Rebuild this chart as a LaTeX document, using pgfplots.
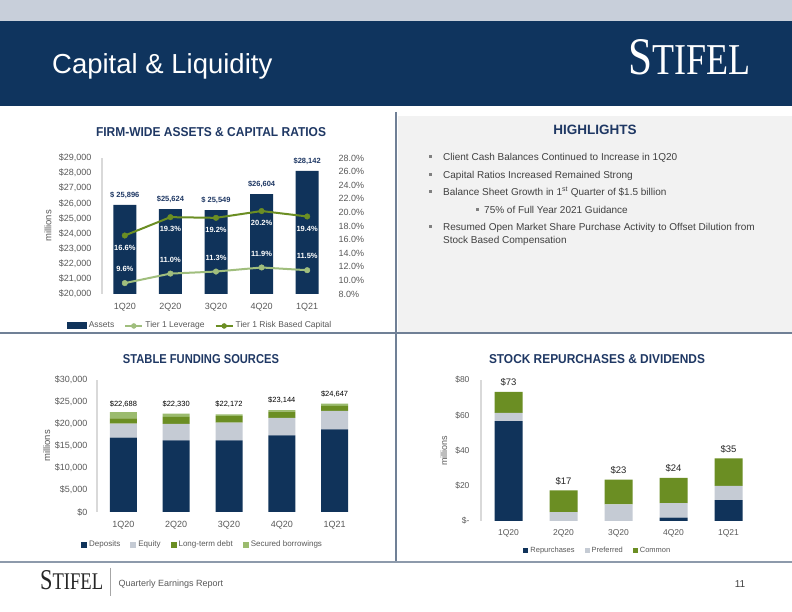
\documentclass[border=0pt]{standalone}
\usepackage{pgfplots}
\pgfplotsset{compat=1.18}
\usepackage{fontspec}
\usepackage{graphicx}
\setmainfont{Liberation Sans}
\newfontfamily\logofont{Liberation Serif}

\definecolor{navy}{RGB}{16,51,90}
\definecolor{hdrnavy}{RGB}{15,52,94}
\definecolor{hdrtop}{RGB}{200,207,218}
\definecolor{lgreen}{RGB}{160,190,125}
\definecolor{dgreen}{RGB}{107,142,35}
\definecolor{sgreen}{RGB}{155,187,110}
\definecolor{eqgray}{RGB}{197,203,212}
\definecolor{txtgray}{RGB}{89,89,89}
\definecolor{bodygray}{RGB}{64,64,64}
\definecolor{linegray}{RGB}{112,128,150}
\definecolor{panelgray}{RGB}{242,242,242}
\definecolor{titlenavy}{RGB}{31,56,100}
\definecolor{axisgray}{RGB}{217,217,217}

\newcommand{\fs}[1]{\fontsize{#1}{#1}\selectfont}

\pgfplotsset{
  slide/.style={
    scale only axis, anchor=south west,
    enlargelimits=false,
    xmin=-0.5, xmax=4.5,
    xtick={0,1,2,3,4},
    xticklabels={1Q20,2Q20,3Q20,4Q20,1Q21},
    axis lines*=left,
    x axis line style={draw=none},
    y axis line style={draw=axisgray, line width=1.2pt},
    tick style={draw=none},
    ticklabel style={font=\fs{9}, text=txtgray},
    /pgf/number format/assume math mode=true,
    /pgf/number format/fixed,
    /pgf/number format/1000 sep={,},
    scaled y ticks=false,
    clip mode=individual,
    legend style={draw=none, fill=none, text=txtgray, legend columns=-1,
      nodes={text height=5.5pt, text depth=1.5pt},
      /tikz/every even column/.append style={column sep=8pt}},
    legend cell align=left,
  }
}

\begin{document}
\begin{tikzpicture}
\useasboundingbox (0,0) rectangle (792pt,612pt);
\fill[white] (0,0) rectangle (792pt,612pt);
% header
\fill[hdrtop] (0,591pt) rectangle (792pt,612pt);
\fill[hdrnavy] (0,506pt) rectangle (792pt,591pt);
\node[anchor=base west, text=white, font=\fs{27.5}, inner sep=0pt] at (52pt,538pt) {Capital \& Liquidity};
\node[anchor=south west, text=white, inner sep=0pt] at (628pt,537pt) {\resizebox{122pt}{35pt}{\logofont\fs{36}S\fs{30}TIFEL}};

% highlights panel
\fill[panelgray] (398pt,280pt) rectangle (792pt,496pt);
\node[font=\bfseries\fs{13.5}, text=titlenavy] at (595pt,482pt) {HIGHLIGHTS};
\begin{scope}[every node/.style={anchor=base west, font=\fs{10}, text=bodygray, inner sep=0pt}]
\fill[gray] (428.5pt,453.5pt) rectangle (431.5pt,456.5pt);
\node at (443pt,451.7pt) {Client Cash Balances Continued to Increase in 1Q20};
\fill[gray] (428.5pt,435.5pt) rectangle (431.5pt,438.5pt);
\node at (443pt,433.7pt) {Capital Ratios Increased Remained Strong};
\fill[gray] (428.5pt,418.5pt) rectangle (431.5pt,421.5pt);
\node at (443pt,416.7pt) {Balance Sheet Growth in 1\textsuperscript{st} Quarter of \$1.5 billion};
\fill[gray] (475.5pt,400.5pt) rectangle (478.5pt,403.5pt);
\node at (484pt,398.7pt) {75\% of Full Year 2021 Guidance};
\fill[gray] (428.5pt,383.5pt) rectangle (431.5pt,386.5pt);
\node at (443pt,381.7pt) {Resumed Open Market Share Purchase Activity to Offset Dilution from};
\node at (443pt,368.7pt) {Stock Based Compensation};
\end{scope}

% separators
\draw[linegray, line width=2pt] (0,279pt) -- (792pt,279pt);
\draw[linegray, line width=2pt] (396pt,500pt) -- (396pt,50pt);
\draw[linegray!80, line width=1.5pt] (0,50pt) -- (792pt,50pt);

% chart titles
\node[text=titlenavy] at (211pt,480pt) {\resizebox{230pt}{9pt}{\bfseries FIRM-WIDE ASSETS \& CAPITAL RATIOS}};
\node[text=titlenavy] at (201pt,253pt) {\resizebox{156pt}{9pt}{\bfseries STABLE FUNDING SOURCES}};
\node[text=titlenavy] at (597pt,253pt) {\resizebox{216pt}{9pt}{\bfseries STOCK REPURCHASES \& DIVIDENDS}};

% ---------- Chart 1 : assets (left axis)
\begin{axis}[slide, at={(102pt,318pt)}, width=228pt, height=136pt,
  ymin=20000, ymax=29000, ytick={20000,21000,...,29000},
  yticklabel={\$\pgfmathprintnumber{\tick}},
  yticklabel style={xshift=-7pt}, xticklabel style={yshift=-6pt},
  ylabel={millions},
  ylabel style={at={(axis description cs:-0.237,0.5)}, anchor=center, font=\fs{9.5}, text=txtgray},
  legend style={at={(0.43,-0.235)}, anchor=center, font=\fs{8.5}}]
\addplot[ybar, bar width=23pt, bar shift=0pt, fill=navy, draw=none,
  nodes near coords, point meta=explicit symbolic,
  every node near coord/.style={anchor=south, font=\bfseries\fs{7.5}, text=titlenavy, yshift=3pt},
  legend image code/.code={\fill[navy] (0pt,-3.5pt) rectangle (20pt,3.5pt);}]
  coordinates {(0,25896)[\$ 25,896] (1,25624)[\$25,624] (2,25549)[\$ 25,549] (3,26604)[\$26,604] (4,28142)[\$28,142]};
\addlegendentry{Assets}
\addlegendimage{lgreen, line width=2pt, mark=*, mark size=2.5pt, mark options={line width=0.4pt}}
\addlegendentry{Tier 1 Leverage}
\addlegendimage{dgreen, line width=2pt, mark=*, mark size=2.5pt, mark options={line width=0.4pt}}
\addlegendentry{Tier 1 Risk Based Capital}
\end{axis}

% ---------- Chart 1 : ratios (right axis)
\begin{axis}[slide, at={(102pt,318pt)}, width=228pt, height=136pt,
  axis y line*=right, y axis line style={draw=none},
  xtick=\empty,
  ymin=8, ymax=28, ytick={8,10,...,28},
  yticklabel={\pgfmathprintnumber[fixed,fixed zerofill,precision=1]{\tick}\%},
  yticklabel style={xshift=5pt}]
\addplot[lgreen, line width=2pt, mark=*, mark size=2.8pt, mark options={line width=0.4pt},
  nodes near coords, point meta=explicit symbolic,
  every node near coord/.style={anchor=center, yshift=14pt, font=\bfseries\fs{7.5}, text=white}]
  coordinates {(0,9.6)[9.6\%] (1,11.0)[11.0\%] (2,11.3)[11.3\%] (3,11.9)[11.9\%] (4,11.5)[11.5\%]};
\addplot[dgreen, line width=2pt, mark=*, mark size=2.8pt, mark options={line width=0.4pt},
  nodes near coords, point meta=explicit symbolic,
  every node near coord/.style={anchor=center, yshift=-12pt, font=\bfseries\fs{7.5}, text=white}]
  coordinates {(0,16.6)[16.6\%] (1,19.3)[19.3\%] (2,19.2)[19.2\%] (3,20.2)[20.2\%] (4,19.4)[19.4\%]};
\end{axis}

% ---------- Chart 2 : stable funding sources
\begin{axis}[slide, at={(97pt,100pt)}, width=264pt, height=132pt,
  ybar stacked, bar width=27pt,
  ymin=0, ymax=30000, ytick={0,5000,...,30000},
  yticklabel={\$\pgfmathprintnumber{\tick}},
  yticklabel style={xshift=-6pt}, xticklabel style={yshift=-6pt},
  ylabel={millions},
  ylabel style={at={(axis description cs:-0.19,0.5)}, anchor=center, font=\fs{9.5}, text=txtgray},
  legend style={at={(0.40,-0.25)}, anchor=center, font=\fs{8}},
  legend image code/.code={\fill[#1] (0pt,-3pt) rectangle (6pt,3pt);}]
\addplot[fill=navy, draw=none] coordinates {(0,16900) (1,16300) (2,16300) (3,17400) (4,18800)};
\addlegendentry{Deposits}
\addplot[fill=eqgray, draw=none] coordinates {(0,3200) (1,3700) (2,4000) (3,4000) (4,4200)};
\addlegendentry{Equity}
\addplot[fill=dgreen, draw=none] coordinates {(0,1200) (1,1600) (2,1500) (3,1400) (4,1100)};
\addlegendentry{Long-term debt}
\addplot[fill=sgreen, draw=none, nodes near coords, point meta=explicit symbolic,
  every node near coord/.style={anchor=south, font=\fs{7.5}, text=black, yshift=4pt}]
  coordinates {(0,1388)[\$22,688] (1,730)[\$22,330] (2,372)[\$22,172] (3,344)[\$23,144] (4,547)[\$24,647]};
\addlegendentry{Secured borrowings}
\end{axis}

% ---------- Chart 3 : stock repurchases & dividends
\begin{axis}[slide, at={(481pt,91pt)}, width=275pt, height=141pt,
  ybar stacked, bar width=28pt,
  ymin=0, ymax=80, ytick={0,20,40,60,80},
  yticklabels={\$-,\$20,\$40,\$60,\$80},
  ticklabel style={font=\fs{8.5}},
  yticklabel style={xshift=-8pt}, xticklabel style={yshift=-5pt},
  ylabel={millions},
  ylabel style={at={(axis description cs:-0.135,0.5)}, anchor=center, font=\fs{9}, text=txtgray},
  legend style={at={(0.425,-0.206)}, anchor=center, font=\fs{7.5}},
  legend image code/.code={\fill[#1] (0pt,-2.5pt) rectangle (5pt,2.5pt);}]
\addplot[fill=navy, draw=none] coordinates {(0,56.6) (1,0) (2,0) (3,1.9) (4,11.8)};
\addlegendentry{Repurchases}
\addplot[fill=eqgray, draw=none] coordinates {(0,4.8) (1,5.1) (2,9.5) (3,8.2) (4,8.1)};
\addlegendentry{Preferred}
\addplot[fill=dgreen, draw=none] coordinates {(0,11.9) (1,12.3) (2,14.0) (3,14.3) (4,15.7)};
\addlegendentry{Common}
\end{axis}
% totals for chart 3 (overlay, same box)
\begin{axis}[slide, at={(481pt,91pt)}, width=275pt, height=141pt,
  hide axis, ymin=0, ymax=80]
\addplot[draw=none, mark=none, nodes near coords, point meta=explicit symbolic,
  every node near coord/.style={anchor=south, font=\fs{9.5}, text=black!85, yshift=2pt}]
  coordinates {(0,73.3)[\$73] (1,17.4)[\$17] (2,23.5)[\$23] (3,24.4)[\$24] (4,35.6)[\$35]};
\end{axis}

% footer
\node[anchor=south west, text=black!85, inner sep=0pt] at (40pt,22pt) {\resizebox{63pt}{19pt}{\logofont\fs{36}S\fs{30}TIFEL}};
\draw[gray!70, line width=0.6pt] (110pt,44pt) -- (110pt,16pt);
\node[anchor=west, font=\fs{9}, text=txtgray] at (115pt,28pt) {Quarterly Earnings Report};
\node[font=\fs{10}, text=bodygray] at (740pt,28pt) {11};
\end{tikzpicture}
\end{document}
